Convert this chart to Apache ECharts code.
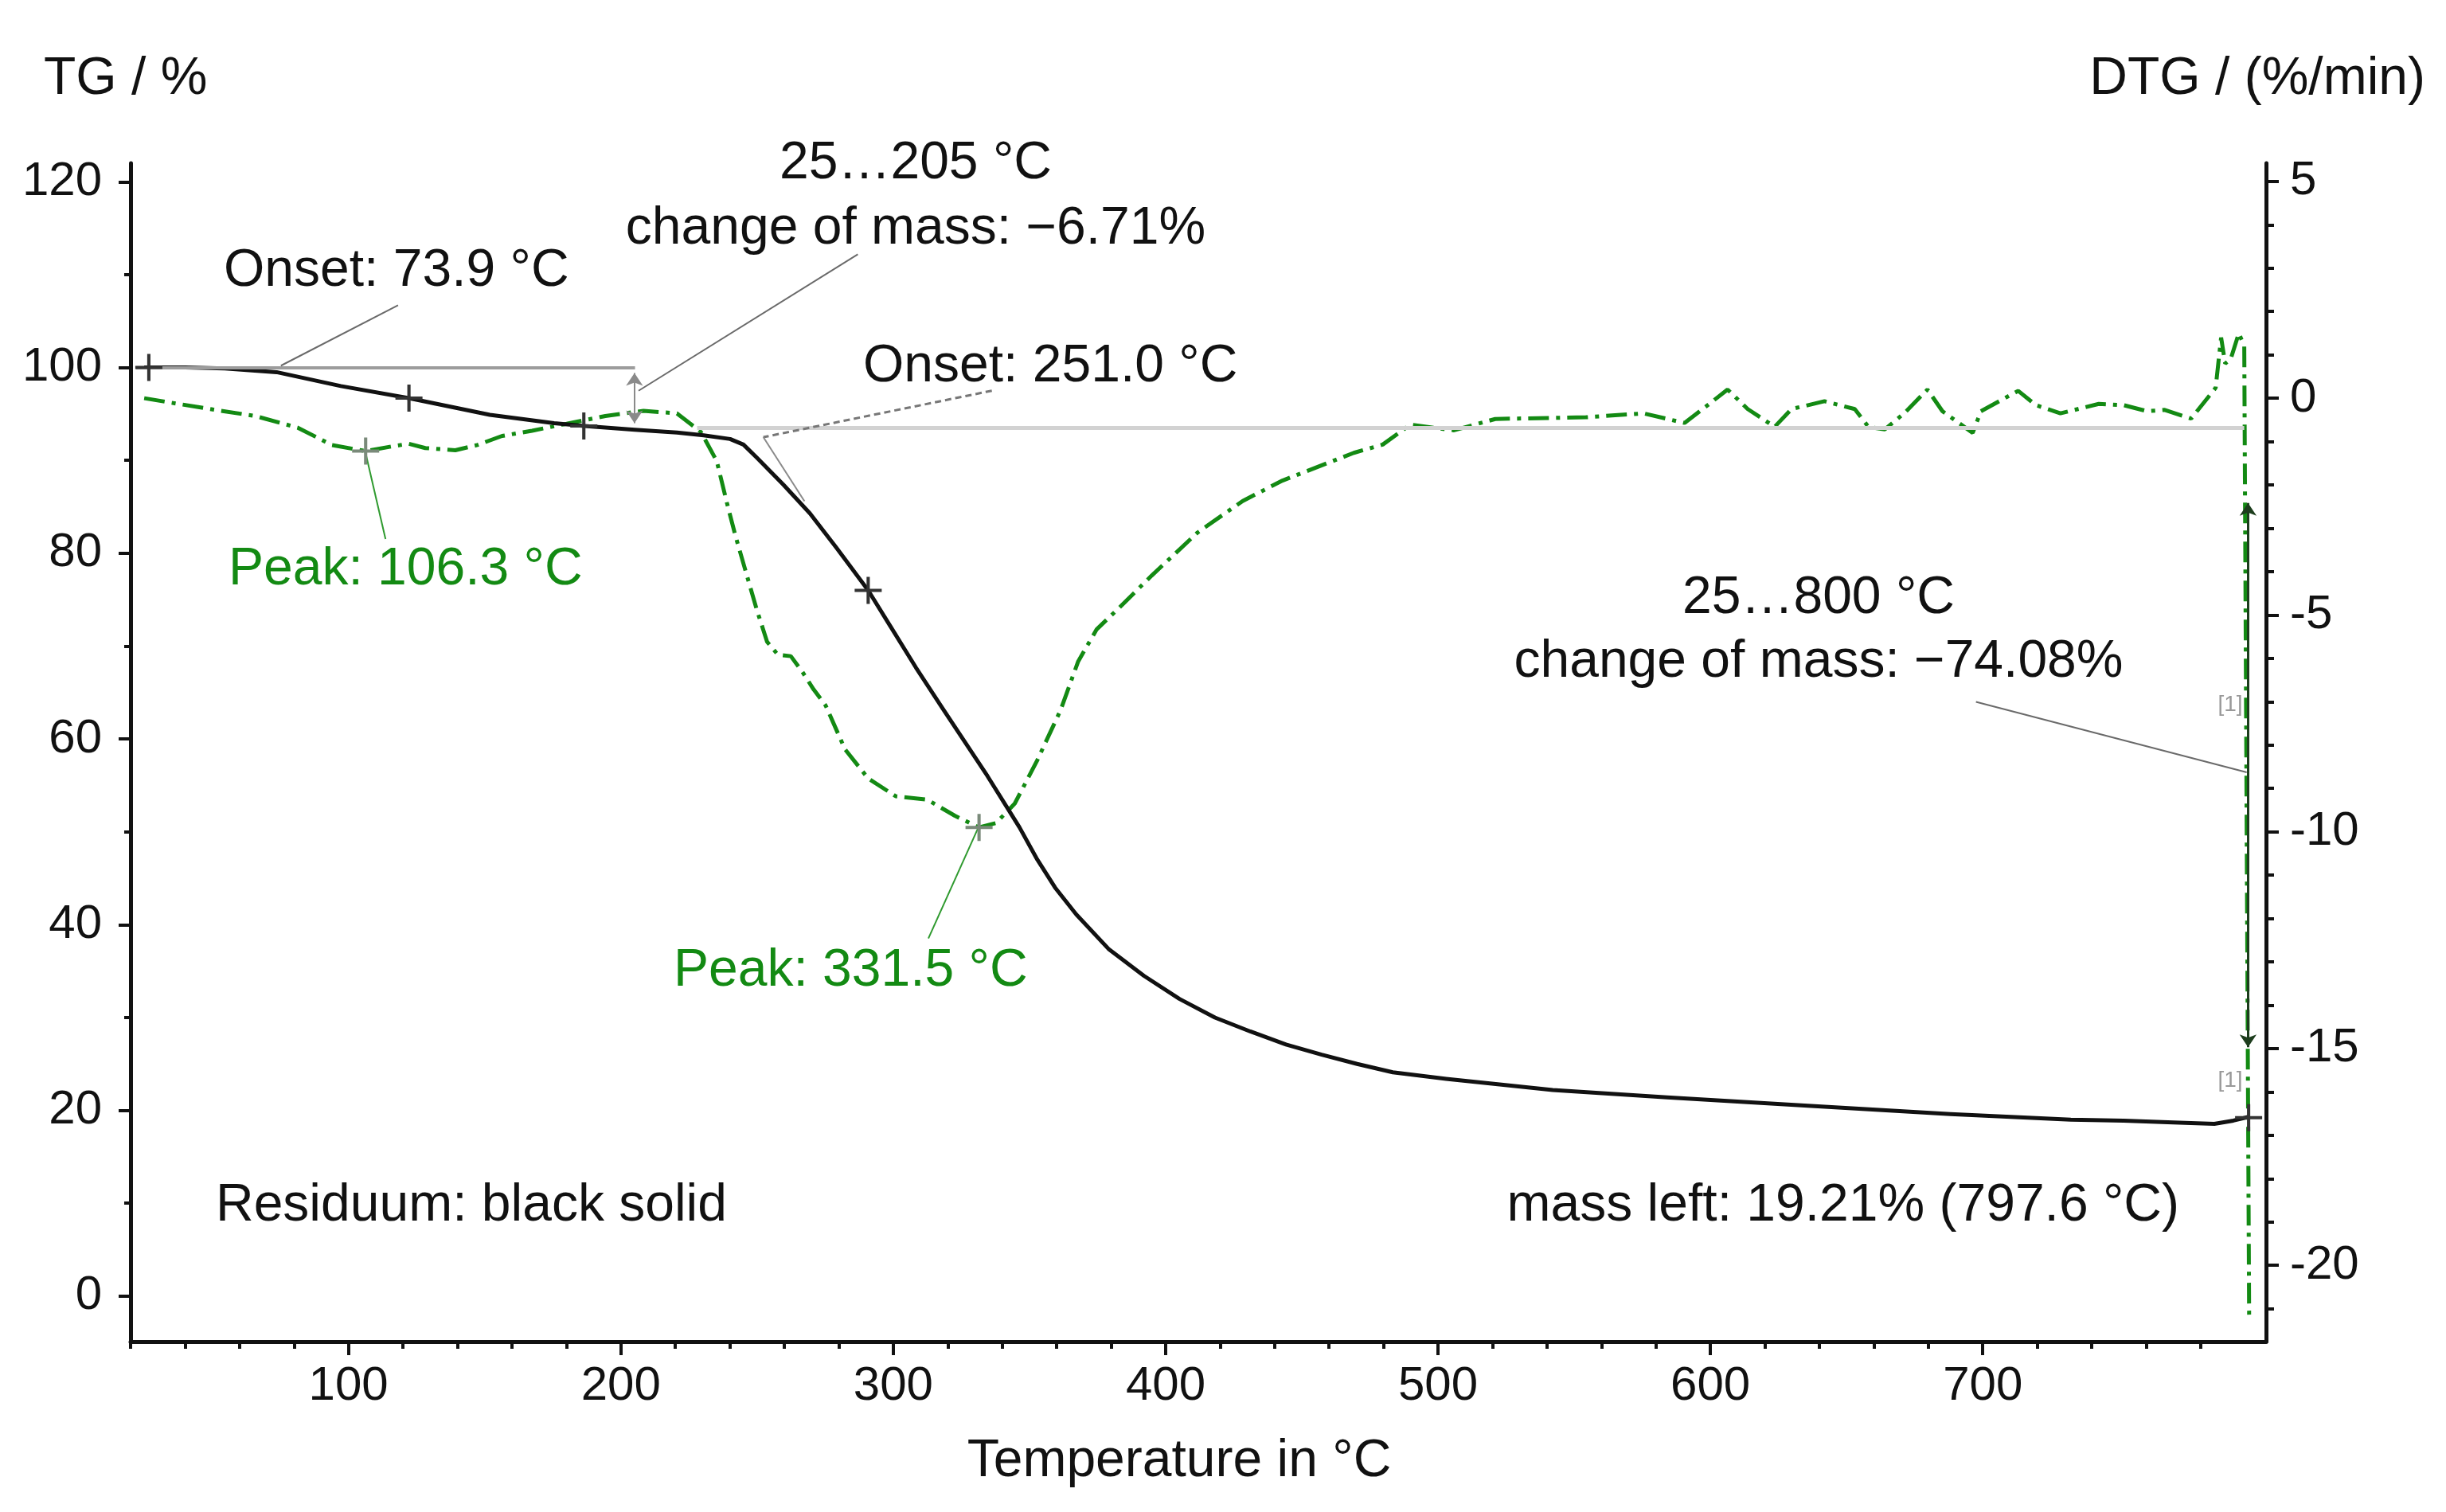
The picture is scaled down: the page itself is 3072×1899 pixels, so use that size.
<!DOCTYPE html>
<html>
<head>
<meta charset="utf-8">
<script src="https://cdn.jsdelivr.net/npm/echarts@6/dist/echarts.min.js"></script>
<style>
  html, body { margin: 0; padding: 0; background: #fff; }
  #chart { width: 3072px; height: 1899px; }
</style>
</head>
<body>
<div id="chart"></div>
<script>
// TG curve (mass, %)
var tgTemp = [25, 40, 54.6, 73.6, 97.2, 122.1, 151.9, 175.5, 186.6, 205.1, 220.6, 230.4, 240.1, 245, 249.9, 259.6, 269.4, 279.1, 290.8, 298.6, 308.3, 318.1, 334.6, 346.3, 352.9, 359.4, 367.2, 379, 392, 405.1, 418.1, 431.1, 444.2, 457.3, 470.3, 483.4, 503, 522.6, 542.1, 584.1, 635.8, 688.2, 732.3, 751.7, 770, 785, 792, 797.6];
var tgMass = [100.0, 100.0, 99.9, 99.5, 98.0, 96.7, 94.9, 94.0, 93.7, 93.3, 93.0, 92.7, 92.3, 91.7, 90.3, 87.4, 84.3, 80.6, 76.0, 72.3, 67.7, 63.3, 56.0, 50.5, 47.0, 44.0, 41.1, 37.4, 34.5, 32.0, 30.0, 28.5, 27.1, 26.0, 25.0, 24.1, 23.4, 22.8, 22.2, 21.4, 20.5, 19.6, 19.0, 18.9, 18.7, 18.55, 18.9, 19.3];

// DTG curve (%/min)
var dtgTemp = [25, 37.5, 50.2, 65.7, 81.4, 93.9, 106.3, 116, 122.1, 128.2, 139.2, 147.3, 156.4, 167.4, 180.1, 194.3, 208.3, 220.6, 229.4, 235.2, 239, 242, 246, 249.9, 253.7, 257.7, 262.4, 266.4, 270.8, 275.2, 282.3, 290.8, 300.9, 312.5, 322.6, 331.5, 337.7, 344.6, 352.8, 361.4, 367.9, 374.7, 383, 394.9, 411.7, 428.3, 442.9, 469.1, 479.7, 489.8, 505.9, 521, 527.7, 554.3, 575.4, 590.5, 599.6, 606.3, 613.7, 623.6, 629.8, 641.9, 653, 658, 664, 671.1, 679.7, 685.2, 696.3, 699.3, 713, 719.5, 728.5, 742.6, 751.7, 760.4, 766.8, 776.5, 785.5, 787.5, 789, 791, 794, 796, 797.8];
var dtgRate = [0.0, -0.13, -0.26, -0.41, -0.68, -1.08, -1.22, -1.11, -1.05, -1.15, -1.2, -1.08, -0.87, -0.75, -0.59, -0.41, -0.29, -0.35, -0.78, -1.45, -2.43, -3.16, -4.03, -4.88, -5.62, -5.92, -5.95, -6.29, -6.72, -7.09, -8.1, -8.77, -9.18, -9.26, -9.63, -9.9, -9.8, -9.35, -8.36, -7.2, -6.07, -5.33, -4.83, -4.09, -3.1, -2.37, -1.9, -1.26, -1.07, -0.61, -0.74, -0.48, -0.47, -0.44, -0.35, -0.57, -0.13, 0.2, -0.25, -0.66, -0.25, -0.07, -0.25, -0.66, -0.72, -0.35, 0.2, -0.3, -0.8, -0.3, 0.17, -0.16, -0.35, -0.13, -0.16, -0.3, -0.27, -0.47, 0.24, 1.4, 0.8, 0.9, 1.5, 1.2, -21.3];

// ticks
var xMajor = [100, 200, 300, 400, 500, 600, 700];
var xMinor = [20, 40, 60, 80, 120, 140, 160, 180, 220, 240, 260, 280, 320, 340, 360, 380, 420, 440, 460, 480, 520, 540, 560, 580, 620, 640, 660, 680, 720, 740, 760, 780];
var tgMajor = [0, 20, 40, 60, 80, 100, 120];
var tgMinor = [10, 30, 50, 70, 90, 110];
var dtgMajor = [5, 0, -5, -10, -15, -20];
var dtgMinor = [4, 3, 2, 1, -1, -2, -3, -4, -6, -7, -8, -9, -11, -12, -13, -14, -16, -17, -18, -19, -21];

// evaluation marks (temperature, TG %) / (temperature, DTG)
var base100 = [[22, 100], [205.2, 100]];
var onsetBase = [[228, 93.5], [796, 93.5]];
var tgLeaders = [
    [[118.2, 106.7], [75.2, 100.2]],
    [[287, 112.2], [206.5, 97.5]],
    [[697.5, 64.0], [796.9, 56.4]]
];
var onsetLeader = [[336.2, 97.5], [252.3, 92.5]];
var onsetTangent = [[252.3, 92.5], [267.4, 85.6]];
var stepArrows = [
    [[205, 99.4], [205, 94.0]],
    [[797.4, 85.4], [797.4, 26.8]]
];
var tgCrosses = [[26.7, 100], [122.2, 96.7], [186.4, 93.7], [290.8, 76.0], [797.6, 19.21]];
var dtgLeaders = [
    [[106.3, -1.27], [113.6, -3.25]],
    [[331.1, -9.92], [312.9, -12.46]]
];
var dtgCrosses = [[106.3, -1.22], [331.5, -9.9]];

var FONT = "'Liberation Sans', Arial, sans-serif";
var GREEN = '#138a13';
var PLUS = 'path://M-1.2,-10h2.4v20h-2.4zM-10,-1.2h20v2.4h-20z';

function pairs(xs, ys) {
    return xs.map(function (x, i) { return [x, ys[i]]; });
}
function seg(p, style, s1, s2) {
    return [
        { coord: p[0], lineStyle: style, symbol: s1 || 'none' },
        { coord: p[1], symbol: s2 || 'none' }
    ];
}
function txt(s, x, y, align, color, size) {
    return {
        type: 'text', x: x, y: y, silent: true, z: 10,
        style: {
            text: s, fill: color || '#111',
            fontSize: size || 66, fontFamily: FONT,
            align: align, textAlign: align,
            verticalAlign: 'middle', textVerticalAlign: 'middle'
        }
    };
}
function tickAxis(pos, min, max, vals, len) {
    return {
        type: 'value', position: pos, min: min, max: max, gridIndex: 0,
        axisLine: { show: false, onZero: false },
        axisTick: { show: true, length: len, customValues: vals, lineStyle: { color: '#111', width: 4 } },
        axisLabel: { show: false },
        splitLine: { show: false }
    };
}

var chart = echarts.init(document.getElementById('chart'));

var leaderStyle = { color: '#6a6a6a', width: 2, type: 'solid' };
var tgMarks = [
    seg(base100, { color: '#9c9c9c', width: 4, type: 'solid' }),
    seg(onsetBase, { color: '#d2d2d2', width: 5, type: 'solid' }),
    seg(onsetLeader, { color: '#777', width: 3, type: [8, 5] }),
    seg(onsetTangent, { color: '#8a8a8a', width: 2, type: 'solid' }),
    seg(stepArrows[0], { color: '#8a8a8a', width: 2, type: 'solid' }, 'arrow', 'arrow'),
    seg(stepArrows[1], { color: '#1d3d1d', width: 3, type: 'solid' }, 'arrow', 'arrow')
];
tgLeaders.forEach(function (l) { tgMarks.push(seg(l, leaderStyle)); });

var dtgMarks = dtgLeaders.map(function (l) {
    return seg(l, { color: '#2f9a2f', width: 2, type: 'solid' });
});

var option = {
    animation: false,
    backgroundColor: '#fff',
    grid: { left: 164, right: 226, top: 205, bottom: 214, containLabel: false },
    xAxis: [
        {
            type: 'value', min: 20, max: 804, position: 'bottom',
            axisLine: { onZero: false, lineStyle: { color: '#111', width: 5 } },
            axisTick: { length: 17, customValues: xMajor, lineStyle: { color: '#111', width: 4 } },
            axisLabel: { customValues: xMajor, margin: 26, fontSize: 60, fontFamily: FONT, color: '#111' },
            splitLine: { show: false }
        },
        tickAxis('bottom', 20, 804, xMinor, 9)
    ],
    yAxis: [
        {
            type: 'value', min: -4.9, max: 122, position: 'left',
            axisLine: { show: true, onZero: false, lineStyle: { color: '#111', width: 5 } },
            axisTick: { length: 15, customValues: tgMajor, lineStyle: { color: '#111', width: 4 } },
            axisLabel: { customValues: tgMajor, margin: 36, fontSize: 60, fontFamily: FONT, color: '#111' },
            splitLine: { show: false }
        },
        {
            type: 'value', min: -21.76, max: 5.42, position: 'right',
            axisLine: { show: true, onZero: false, lineStyle: { color: '#111', width: 5 } },
            axisTick: { length: 16, customValues: dtgMajor, lineStyle: { color: '#111', width: 4 } },
            axisLabel: { customValues: dtgMajor, margin: 30, fontSize: 60, fontFamily: FONT, color: '#111' },
            splitLine: { show: false }
        },
        tickAxis('left', -4.9, 122, tgMinor, 8),
        tickAxis('right', -21.76, 5.42, dtgMinor, 10)
    ],
    series: [
        {
            name: 'TG', type: 'line', xAxisIndex: 0, yAxisIndex: 0,
            data: pairs(tgTemp, tgMass),
            showSymbol: false, smooth: false, z: 4,
            lineStyle: { color: '#111', width: 5, join: 'round' },
            markLine: {
                silent: true, symbolSize: 16, label: { show: false }, animation: false,
                data: tgMarks
            },
            markPoint: {
                silent: true, symbol: PLUS, symbolSize: 34, label: { show: false },
                itemStyle: { color: '#333' },
                data: tgCrosses.map(function (c) { return { coord: c }; })
            }
        },
        {
            name: 'DTG', type: 'line', xAxisIndex: 0, yAxisIndex: 1,
            data: pairs(dtgTemp, dtgRate),
            showSymbol: false, z: 3,
            lineStyle: { color: GREEN, width: 5, type: [26, 9, 5, 9] },
            markLine: {
                silent: true, label: { show: false }, animation: false,
                data: dtgMarks
            },
            markPoint: {
                silent: true, symbol: PLUS, symbolSize: 34, label: { show: false },
                itemStyle: { color: '#7a8a7a' },
                data: dtgCrosses.map(function (c) { return { coord: c }; })
            }
        }
    ],
    graphic: [
        txt('TG / %', 55, 100, 'left'),
        txt('DTG / (%/min)', 3046, 100, 'right'),
        txt('Temperature in \u00b0C', 1481, 1836, 'center'),
        txt('Onset: 73.9 \u00b0C', 281, 341, 'left'),
        txt('25\u2026205 \u00b0C', 1150, 206, 'center'),
        txt('change of mass: \u22126.71%', 1150, 288, 'center'),
        txt('Onset: 251.0 \u00b0C', 1084, 461, 'left'),
        txt('Peak: 106.3 \u00b0C', 287, 716, 'left', GREEN),
        txt('Peak: 331.5 \u00b0C', 846, 1220, 'left', GREEN),
        txt('25\u2026800 \u00b0C', 2284, 752, 'center'),
        txt('change of mass: \u221274.08%', 2284, 832, 'center'),
        txt('Residuum: black solid', 271, 1515, 'left'),
        txt('mass left: 19.21% (797.6 \u00b0C)', 2737, 1515, 'right'),
        txt('[1]', 2801, 885, 'center', '#999', 28),
        txt('[1]', 2801, 1357, 'center', '#999', 28)
    ]
};

chart.setOption(option);
</script>
</body>
</html>
